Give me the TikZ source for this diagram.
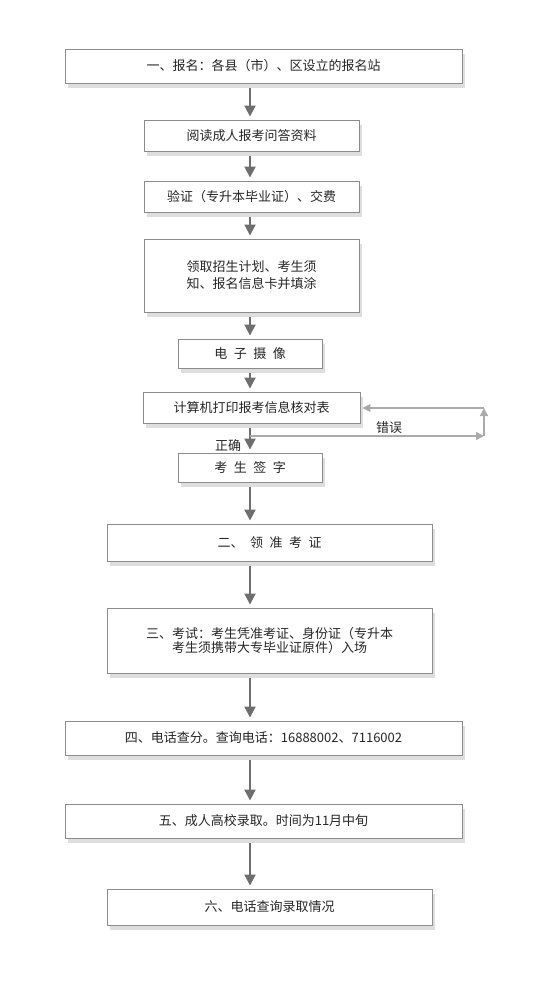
\documentclass[tikz,border=0pt]{standalone}
\usepackage{fontspec}
\setmainfont{Noto Sans CJK SC}
\usetikzlibrary{arrows.meta,shadows}
\newcommand{\zgap}{\hspace{0.5em}}

\begin{document}
\begin{tikzpicture}[x=1pt, y=-1pt,
  box/.style={draw=black!45, line width=0.9pt, fill=white, inner sep=0pt, align=center,
    font=\fontsize{13}{17}\selectfont, text=black!85,
    drop shadow={shadow xshift=3pt, shadow yshift=-5pt, fill=black!13, opacity=1}},
  flow/.style={-{Triangle[width=11pt,length=11pt]}, line width=2pt, draw=black!57, fill=black!57,
    shorten <=5pt, shorten >=3pt},
  back/.style={-{Triangle[width=8pt,length=8pt]}, line width=1.5pt, draw=black!33, fill=black!33},
  tag/.style={font=\fontsize{13}{15}\selectfont, text=black!85, inner sep=0pt}]
\useasboundingbox (0,0) rectangle (540,990);
% steps
\node[box, minimum width=397pt, minimum height=34pt] (s1) at (263.5,66) {一、报名：各县（市）、区设立的报名站};
\node[box, minimum width=215pt, minimum height=31pt] (s2) at (251.5,135.5) {阅读成人报考问答资料};
\node[box, minimum width=215pt, minimum height=31pt] (s3) at (251.5,196.5) {验证（专升本毕业证）、交费};
\node[box, minimum width=215pt, minimum height=73pt] (s4) at (251.5,275.5) {领取招生计划、考生须\\知、报名信息卡并填涂};
\node[box, minimum width=144pt, minimum height=29pt] (s5) at (250,353.5) {电\zgap 子\zgap 摄\zgap 像};
\node[box, minimum width=217pt, minimum height=31pt] (s6) at (251.5,407.5) {计算机打印报考信息核对表};
\node[box, minimum width=144pt, minimum height=29pt] (s7) at (250,467.5) {考\zgap 生\zgap 签\zgap 字};
\node[box, minimum width=325pt, minimum height=37pt] (s8) at (269.5,542.5) {二、\zgap 领\zgap 准\zgap 考\zgap 证};
\node[box, minimum width=325pt, minimum height=65pt, font=\fontsize{13}{14}\selectfont] (s9) at (269.5,640.5) {三、考试：考生凭准考证、身份证（专升本\\考生须携带大专毕业证原件）入场};
\node[box, minimum width=397pt, minimum height=34pt] (s10) at (263.5,738) {四、电话查分。查询电话：16888002、7116002};
\node[box, minimum width=397pt, minimum height=34pt] (s11) at (263.5,821) {五、成人高校录取。时间为11月中旬};
\node[box, minimum width=325pt, minimum height=36pt] (s12) at (269.5,907) {六、电话查询录取情况};
% main arrows
\coordinate (axis) at (250,0);
\draw[flow] (axis |- s1.south) -- (axis |- s2.north);
\draw[flow] (axis |- s2.south) -- (axis |- s3.north);
\draw[flow] (axis |- s3.south) -- (axis |- s4.north);
\draw[flow] (axis |- s4.south) -- (axis |- s5.north);
\draw[flow] (axis |- s5.south) -- (axis |- s6.north);
\draw[flow] (axis |- s6.south) -- (axis |- s7.north);
\draw[flow] (axis |- s7.south) -- (axis |- s8.north);
\draw[flow] (axis |- s8.south) -- (axis |- s9.north);
\draw[flow] (axis |- s9.south) -- (axis |- s10.north);
\draw[flow] (axis |- s10.south) -- (axis |- s11.north);
\draw[flow] (axis |- s11.south) -- (axis |- s12.north);
% check loop
\coordinate (fork) at (250,436);
\coordinate (turn) at (484,436);
\coordinate (top) at (484,408);
\draw[back] (fork) -- (turn);
\draw[back] (turn) -- (top);
\draw[back] (top) -- ([xshift=2pt]s6.east |- top);
\node[tag] (wrong) at (389,428) {错误};
\node[tag] (right) at (228,446) {正确};
\end{tikzpicture}
\end{document}
